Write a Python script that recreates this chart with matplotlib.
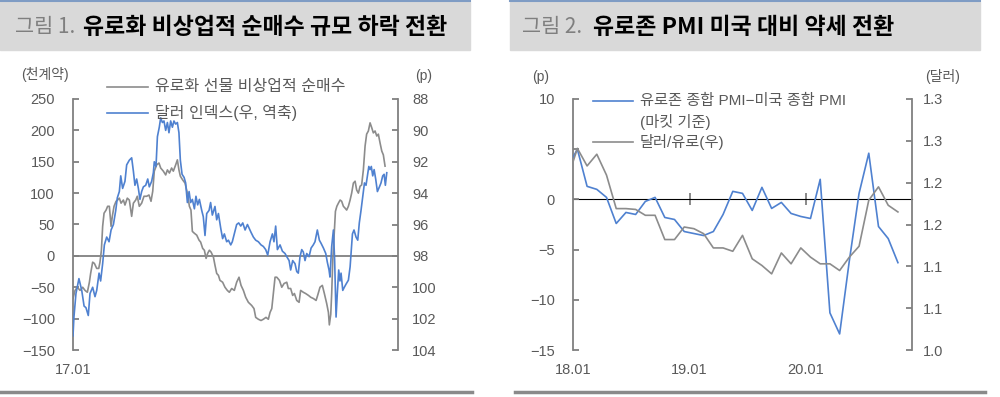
import numpy as np
import matplotlib
matplotlib.use('Agg')
import matplotlib.pyplot as plt
from matplotlib.lines import Line2D
from matplotlib.patches import Rectangle

plt.rcParams['font.family'] = ['Liberation Sans', 'Noto Sans CJK KR']
plt.rcParams['axes.unicode_minus'] = True

# ---- chart 1: weekly, weeks counted from the first week of 2017 ----
net_weeks = [0, 1.3, 2.8, 4.5, 6.2, 7.7, 9.2, 10.5, 11.3, 12.6, 13.7, 15.2, 16.5, 17.3, 18.2, 19.0,
             19.9, 21.2, 22.2, 23.3, 24.4, 25.2, 26.3, 27.6, 28.6, 29.7, 30.8, 32.3, 33.3, 34.8,
             36.1, 37.6, 38.7, 40.2, 41.2, 42.5, 44.0, 45.5, 47.2, 48.7, 50.0, 51.1, 52.1, 53.6,
             55.1, 56.2, 57.9, 59.4, 60.5, 61.8, 63.2, 64.3, 65.8, 66.9, 67.9, 68.8, 70.3, 71.8,
             73.3, 74.6, 75.6, 76.5, 77.8, 79.3, 80.8, 81.8, 83.1, 84.2, 85.3, 86.3, 87.4, 88.5,
             90.0, 91.0, 92.1, 93.2, 94.2, 95.9, 97.4, 98.9, 100.2, 101.7, 103.4, 104.9, 106.4,
             107.7, 109.2, 110.7, 112.4, 114.5, 116.0, 117.1, 118.8, 120.5, 122.0, 123.7, 125.2,
             126.3, 127.4, 128.4, 129.5, 130.6, 132.3, 133.8, 135.3, 137.0, 138.0, 139.5, 140.8,
             141.9, 143.4, 144.9, 145.9, 147.6, 149.1, 150.9, 152.4, 154.1, 155.8, 156.8, 158.3,
             159.8, 161.1, 162.6, 163.7, 164.3, 165.2, 165.8, 166.5, 167.4, 168.2, 169.1, 170.1,
             171.2, 172.2, 173.3, 174.4, 175.4, 176.5, 177.6, 178.6, 179.7, 180.8, 181.8, 182.9,
             184.0, 185.0, 186.1, 187.2, 188.2, 189.3, 190.4, 191.5, 192.5, 193.6, 194.7, 195.7,
             196.8, 197.9, 198.9, 200.0]
net_values = [-68, -55, -50, -55, -50, -55, -58, -42, -28, -10, -12, -20, -20, -10, 9, 47,
              68, 73, 79, 79, 47, 63, 79, 87, 89, 92, 84, 89, 81, 92,
              89, 63, 84, 89, 95, 79, 84, 95, 95, 97, 87, 103, 135, 145,
              148, 140, 135, 129, 137, 132, 140, 135, 145, 153, 137, 127, 121, 116,
              100, 79, 73, 39, 36, 33, 25, 22, 12, 9, -4, 4, 9, 6,
              -2, -15, -28, -31, -39, -42, -50, -55, -58, -52, -55, -42, -34,
              -47, -55, -66, -74, -79, -84, -98, -101, -103, -101, -98, -101,
              -90, -84, -60, -34, -34, -39, -50, -44, -42, -52, -52, -63,
              -60, -71, -74, -55, -58, -60, -63, -66, -68, -71, -63, -50,
              -47, -60, -76, -90, -110, -93, -60, -7, 36, 71, 79, 84,
              89, 87, 79, 76, 73, 79, 89, 100, 116, 119, 105, 100,
              111, 113, 137, 175, 194, 199, 212, 204, 196, 199, 191, 194,
              180, 167, 161, 143]

dxy_weeks = [0, 0.6, 1.9, 3.8, 5.6, 7.1, 8.3, 9.8, 10.9, 12.6, 14.1, 15.2, 16.7, 17.7, 19.0, 20.1,
             21.6, 23.1, 24.4, 25.9, 27.4, 28.4, 29.7, 30.6, 31.8, 33.3, 34.4, 36.1, 37.6, 38.7,
             39.7, 40.8, 41.9, 42.9, 44.0, 45.1, 46.6, 47.9, 48.9, 50.4, 51.5, 52.1, 53.2, 54.1,
             55.3, 56.2, 57.3, 58.3, 59.4, 60.5, 61.5, 62.6, 63.7, 64.7, 65.8, 66.9, 67.9, 68.8,
             69.9, 71.2, 72.2, 73.3, 74.4, 75.4, 76.5, 77.8, 78.8, 79.9, 81.0, 82.5, 83.5, 84.6,
             85.7, 87.2, 88.2, 89.3, 91.0, 92.1, 93.2, 94.7, 95.9, 97.0, 98.5, 99.6, 101.1, 102.1,
             103.4, 104.9, 106.2, 107.5, 108.8, 110.3, 111.8, 114.1, 115.6, 117.1, 118.8, 120.5,
             122.0, 123.5, 124.8, 126.3, 127.8, 128.8, 129.9, 131.0, 132.7, 134.2, 135.9, 137.0,
             138.5, 139.5, 140.8, 142.3, 143.4, 144.4, 145.5, 146.6, 147.6, 148.7, 149.8, 151.3,
             152.6, 154.0, 155.1, 156.6, 157.9, 159.0, 160.5, 162.0, 163.0, 164.1, 164.7, 165.8,
             166.9, 167.7, 168.6, 169.4, 170.3, 171.1, 171.8, 172.9, 173.9, 175.0, 176.5, 177.6,
             178.2, 179.1, 180.1, 181.4, 182.5, 183.5, 184.6, 185.7, 186.8, 187.8, 188.7, 189.6,
             190.4, 191.2, 192.1, 193.0, 194.0, 195.1, 196.4, 197.4, 198.5, 199.4, 200.2, 201.1]
dxy_values = [103.1, 101.9, 100.4, 99.45, 100.2, 101.2, 101.3, 101.8, 100.4, 100.0, 100.6, 100.2, 99.1, 99.6, 98.5, 97.3,
              96.8, 97.1, 96.35, 96.0, 95.1, 94.3, 93.9, 92.9, 93.7, 93.25, 92.2, 91.9, 91.75, 92.6,
              93.5, 93.1, 93.7, 94.4, 93.9, 93.6, 93.5, 93.1, 93.6, 93.25, 92.7, 92.0, 92.3, 90.4,
              89.8, 89.2, 89.5, 89.4, 90.0, 89.5, 90.15, 89.4, 89.8, 89.4, 89.6, 89.5, 90.15, 91.9,
              92.8, 93.0, 93.35, 94.6, 93.9, 94.6, 94.4, 95.0, 94.2, 94.75, 94.4, 95.1, 95.5, 96.7,
              95.3, 95.1, 94.6, 95.4, 94.85, 95.7, 95.3, 96.25, 96.9, 96.6, 97.1, 97.0, 97.3, 97.1,
              96.6, 96.0, 95.9, 96.1, 95.9, 96.35, 96.0, 96.5, 96.8, 97.0, 97.1, 97.3,
              97.4, 97.6, 97.95, 97.1, 96.6, 97.1, 96.1, 97.6, 97.3, 97.7, 97.85, 98.05,
              98.3, 98.9, 98.3, 98.5, 99.0, 99.1, 98.05, 97.6, 97.75, 98.3, 97.85, 98.05,
              97.5, 97.3, 97.1, 96.35, 97.0, 97.2, 97.5, 97.85, 98.4, 98.9, 99.35, 97.4,
              96.35, 98.3, 101.9, 100.4, 98.9, 99.6, 99.1, 100.2, 100.0, 99.8, 99.55, 98.7,
              97.85, 96.6, 96.35, 96.8, 97.0, 95.9, 95.1, 94.2, 93.35, 93.5, 92.9, 92.3,
              92.5, 92.3, 92.9, 92.5, 93.1, 93.9, 93.6, 93.35, 92.9, 92.8, 93.5, 92.7]

# ---- chart 2: monthly, Dec 2017 - Oct 2020 ----
months = ['17.12',
          '18.01', '18.02', '18.03', '18.04', '18.05', '18.06', '18.07', '18.08', '18.09', '18.10', '18.11', '18.12',
          '19.01', '19.02', '19.03', '19.04', '19.05', '19.06', '19.07', '19.08', '19.09', '19.10', '19.11', '19.12',
          '20.01', '20.02', '20.03', '20.04', '20.05', '20.06', '20.07', '20.08', '20.09', '20.10']
pmi_gap = [3.2,
           5.0, 1.3, 1.0, 0.2, -2.4, -1.3, -1.5, -0.2, 0.2, -1.8, -2.0, -3.2,
           -3.4, -3.6, -3.2, -1.5, 0.8, 0.6, -1.1, 1.2, -0.9, -0.3, -1.4, -1.7,
           -1.9, 2.0, -11.3, -13.4, -6.1, 0.6, 4.6, -2.7, -3.9, -6.3]
eurusd = [1.205,
          1.241, 1.220, 1.234, 1.209, 1.169, 1.169, 1.168, 1.161, 1.161, 1.132, 1.132, 1.147,
          1.145, 1.139, 1.122, 1.122, 1.118, 1.137, 1.109, 1.101, 1.091, 1.116, 1.103, 1.122,
          1.111, 1.103, 1.103, 1.095, 1.111, 1.124, 1.179, 1.195, 1.173, 1.165]
usd_ticks = [1.0, 1.05, 1.1, 1.15, 1.2, 1.25, 1.3]
usd_ticklabels = ['1.0', '1.1', '1.1', '1.2', '1.2', '1.3', '1.3']

BLUE = '#4f81d0'
GRAY = '#8c8c8c'
AXC = '#808080'
TXT = '#595959'

W, H = 1000, 397
fig = plt.figure(figsize=(W / 100, H / 100), dpi=100)


def fx(px):
    return px / W


def fy(py):
    return 1 - py / H


# title bands and bottom rules
for x0, x1 in [(0, 470), (510, 980)]:
    fig.patches.append(Rectangle((fx(x0), fy(50)), fx(x1 - x0), 48 / H,
                                 transform=fig.transFigure, color='#d9d9d9', zorder=0))
    fig.add_artist(Line2D([fx(x0), fx(x1)], [fy(1), fy(1)], color='#7f9cc4', lw=1.5))
for x0, x1 in [(0, 472), (515, 985)]:
    fig.add_artist(Line2D([fx(x0), fx(x1)], [fy(392), fy(392)], color='#8a8a8a', lw=2.5))

fig.text(fx(15), fy(27), '그림 1.', fontsize=15, color='#7f7f7f', va='center',
         family='Noto Sans CJK KR')
fig.text(fx(83), fy(27), '유로화 비상업적 순매수 규모 하락 전환', fontsize=16.5, fontweight='bold',
         color='black', va='center', family='Noto Sans CJK KR')
fig.text(fx(522), fy(27), '그림 2.', fontsize=15, color='#7f7f7f', va='center',
         family='Noto Sans CJK KR')
fig.text(fx(593), fy(27), '유로존 PMI 미국 대비 약세 전환', fontsize=16.5, fontweight='bold',
         color='black', va='center', family='Noto Sans CJK KR')


def style(ax, side):
    for s in ['top', 'bottom', 'left', 'right']:
        ax.spines[s].set_visible(False)
    ax.spines[side].set_visible(True)
    ax.spines[side].set_color(AXC)
    ax.spines[side].set_linewidth(1.3)
    ax.tick_params(axis='y', direction='in', length=4, width=1.3, color=AXC,
                   labelcolor=TXT, labelsize=10.5)
    ax.tick_params(axis='x', length=0, labelcolor=TXT, labelsize=10.5, pad=9)


# ---------------- chart 1 ----------------
ax1 = fig.add_axes([fx(73), fy(350), fx(398 - 73), (350 - 99) / H])
ax1b = ax1.twinx()
ax1.set_xlim(0, 208.3)
ax1.set_ylim(-150, 250)
ax1.set_yticks(np.arange(-150, 251, 50))
ax1b.set_ylim(104, 88)
ax1b.set_yticks(np.arange(88, 105, 2))
style(ax1, 'left')
style(ax1b, 'right')
ax1.tick_params(axis='y', pad=13)
ax1b.tick_params(axis='y', pad=10)
ax1.set_xticks([0])
ax1.set_xticklabels(['17.01'])
ax1.axhline(0, color=AXC, lw=1.3, zorder=1)
ax1.plot(net_weeks, net_values, color=GRAY, lw=1.2, zorder=2)
ax1b.plot(dxy_weeks, dxy_values, color=BLUE, lw=1.2, zorder=3)

fig.text(fx(45), fy(74), '(천계약)', fontsize=10, color=TXT, ha='center', va='center')
fig.text(fx(424), fy(76), '(p)', fontsize=10, color=TXT, ha='center', va='center')

fig.add_artist(Line2D([fx(107), fx(148)], [fy(87), fy(87)], color=GRAY, lw=1.2))
fig.text(fx(155), fy(87), '유로화 선물 비상업적 순매수', fontsize=11.5, color=TXT, va='center')
fig.add_artist(Line2D([fx(107), fx(148)], [fy(113), fy(113)], color=BLUE, lw=1.2))
fig.text(fx(155), fy(113), '달러 인덱스(우, 역축)', fontsize=11.5, color=TXT, va='center')

# ---------------- chart 2 ----------------
month_pos = [(int(m[:2]) - 18) * 12 + int(m[3:]) - 1 + 0.45 for m in months]

ax2 = fig.add_axes([fx(573), fy(350), fx(912 - 573), (350 - 99) / H])
ax2b = ax2.twinx()
ax2.set_xlim(0, 34.9)
ax2.set_ylim(-15, 10)
ax2.set_yticks(np.arange(-15, 11, 5))
ax2b.set_ylim(1.0, 1.3)
ax2b.set_yticks(usd_ticks)
ax2b.set_yticklabels(usd_ticklabels)
style(ax2, 'left')
style(ax2b, 'right')
ax2.tick_params(axis='y', pad=13)
ax2b.tick_params(axis='y', pad=8)
ax2.set_xticks([0, 12, 24])
ax2.set_xticklabels(['18.01', '19.01', '20.01'])

zero = ax2.secondary_xaxis(0.6)
zero.set_xticks([12, 24])
zero.set_xticklabels(['', ''])
zero.tick_params(axis='x', direction='inout', length=8, width=1.3, color=AXC)
zero.spines['bottom'].set_color(AXC)
zero.spines['bottom'].set_linewidth(1.3)

ax2.plot(month_pos, pmi_gap, color=BLUE, lw=1.2, zorder=3)
ax2b.plot(month_pos, eurusd, color=GRAY, lw=1.2, zorder=2)

fig.text(fx(541), fy(77), '(p)', fontsize=10, color=TXT, ha='center', va='center')
fig.text(fx(943), fy(77), '(달러)', fontsize=10, color=TXT, ha='center', va='center')

fig.add_artist(Line2D([fx(593), fx(633)], [fy(101), fy(101)], color=BLUE, lw=1.2))
fig.text(fx(640), fy(101), '유로존 종합 PMI\u2212미국 종합 PMI', fontsize=11, color=TXT, va='center')
fig.text(fx(640), fy(122), '(마킷 기준)', fontsize=11, color=TXT, va='center')
fig.add_artist(Line2D([fx(593), fx(633)], [fy(142), fy(142)], color=GRAY, lw=1.2))
fig.text(fx(640), fy(142), '달러/유로(우)', fontsize=11, color=TXT, va='center')

fig.savefig('out.png', dpi=100)
